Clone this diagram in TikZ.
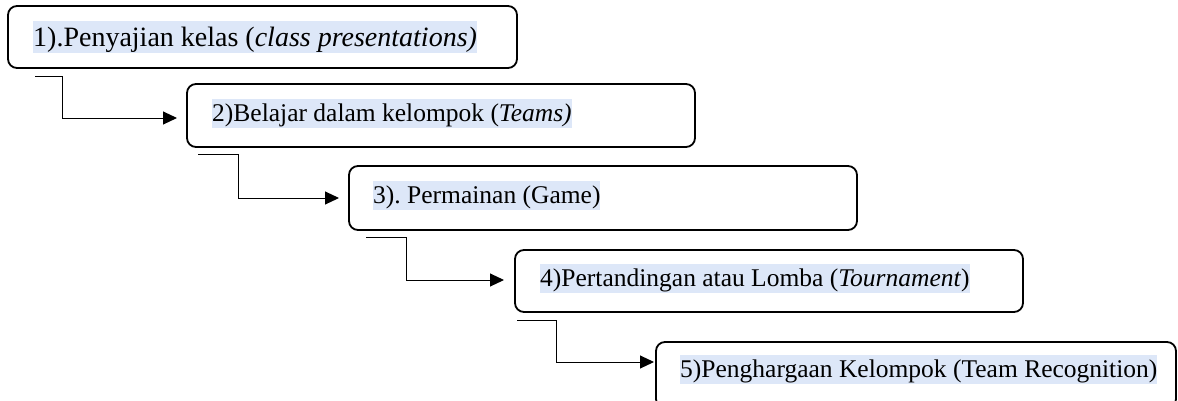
\documentclass[tikz,border=0pt]{standalone}
\usepackage{fontspec}
\setmainfont{Liberation Serif}
\usetikzlibrary{arrows.meta,calc}
\definecolor{hl}{RGB}{221,231,248}
\begin{document}
\begin{tikzpicture}[x=1pt,y=-1pt,
  box/.style={draw=black,line width=1.8pt,rounded corners=9pt,rectangle,inner sep=0pt,outer sep=0pt},
  lbl/.style={fill=hl,inner sep=0pt,anchor=base west,text height=22pt,text depth=7pt,font=\fontsize{25.5}{30}\selectfont},
  conn/.style={draw=black,line width=1pt,-{Triangle[length=14pt,width=13pt]}}]
\useasboundingbox (0,0) rectangle (1178,400);
\clip (0,0) rectangle (1178,400);
% boxes
\node[box,minimum width=509pt,minimum height=62pt] (b1) at (262.5,37) {};
\node[box,minimum width=508pt,minimum height=63pt] (b2) at (441,115.5) {};
\node[box,minimum width=508pt,minimum height=64pt] (b3) at (603,198) {};
\node[box,minimum width=508pt,minimum height=62pt] (b4) at (769,281) {};
\node[box,minimum width=520pt,minimum height=66pt] (b5) at (916,375) {};
% labels
\node[lbl,text height=25pt,font=\fontsize{28}{32}\selectfont] (t1) at (33,46) {1).Penyajian kelas (\textit{class presentations)}};
\node[lbl] (t2) at (212,121) {2)Belajar dalam kelompok (\textit{Teams)}};
\node[lbl] (t3) at (373,203) {3).\ Permainan (Game)};
\node[lbl] (t4) at (540,286) {4)Pertandingan atau Lomba (\textit{Tournament})};
\node[lbl] (t5) at (680,377) {5)Penghargaan Kelompok (Team Recognition)};
% connector coordinates
\coordinate (s1) at ($(b1.south west)+(27,8)$);
\coordinate (e1) at ($(b2.west)+(-10,2.5)$);
\coordinate (s2) at ($(b2.south west)+(11,7)$);
\coordinate (e2) at ($(b3.west)+(-10,0)$);
\coordinate (s3) at ($(b3.south west)+(17,7)$);
\coordinate (e3) at ($(b4.west)+(-11,-1)$);
\coordinate (s4) at ($(b4.south west)+(2,8)$);
\coordinate (e4) at ($(b5.north west)+(-2,20)$);
\draw[conn] (s1) -- ++(27,0) |- (e1);
\draw[conn] (s2) -- ++(40,0) |- (e2);
\draw[conn] (s3) -- ++(40,0) |- (e3);
\draw[conn] (s4) -- ++(39,0) |- (e4);
\end{tikzpicture}
\end{document}
